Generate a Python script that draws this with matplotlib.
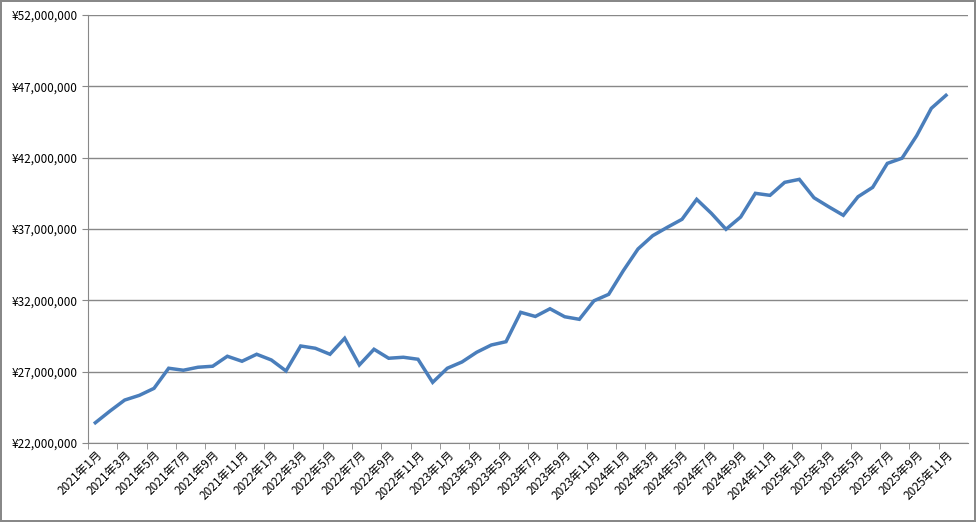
import matplotlib
matplotlib.use("Agg")
import matplotlib.pyplot as plt
from matplotlib.ticker import FuncFormatter

plt.rcParams['font.family'] = ['Noto Sans CJK JP', 'DejaVu Sans']

months = [f"{y}年{m}月" for y in range(2021, 2026) for m in range(1, 13)][:59]
values_m = [23.42, 24.24, 25.01, 25.34, 25.83, 27.24, 27.10, 27.31, 27.38, 28.08,
            27.73, 28.22, 27.82, 27.05, 28.80, 28.64, 28.22, 29.34, 27.47, 28.57,
            27.94, 28.01, 27.87, 26.25, 27.24, 27.68, 28.36, 28.87, 29.10, 31.16,
            30.87, 31.41, 30.85, 30.67, 31.97, 32.42, 34.08, 35.60, 36.53, 37.12,
            37.68, 39.08, 38.10, 36.98, 37.84, 39.50, 39.36, 40.27, 40.48, 39.19,
            38.56, 37.96, 39.26, 39.92, 41.60, 41.96, 43.54, 45.46, 46.37]
values = [v * 1e6 for v in values_m]

fig = plt.figure(figsize=(9.76, 5.22), dpi=100)
fig.patch.set_edgecolor('#888888'); fig.patch.set_linewidth(1.5)
ax = fig.add_axes([88/976, 1-443/522, 880/976, 428/522])
x = list(range(len(values)))
ax.plot(x, values, color='#4a7ebb', lw=2.5, solid_joinstyle='miter')
ax.set_xlim(-0.5, 59.5)
ax.set_ylim(22e6, 52e6)
ax.set_yticks([22e6 + 5e6 * k for k in range(7)])
ax.yaxis.set_major_formatter(FuncFormatter(lambda v, p: f"¥{v:,.0f}"))
ax.grid(axis='y', color='#888888', lw=1)
ax.set_axisbelow(True)
ax.set_xticks(x[::2])
ax.set_xticklabels(months[::2], rotation=45, ha='right', rotation_mode='anchor', fontsize=8.5)
ax.set_xticks([-0.5 + 2*k for k in range(30)], minor=True)
ax.tick_params(axis='x', which='major', length=0, pad=4)
ax.tick_params(axis='x', which='minor', length=4, color='#888888')
ax.tick_params(axis='y', labelsize=8.5, length=4, color='#888888')
for s in ['top', 'right']:
    ax.spines[s].set_visible(False)
for s in ['left', 'bottom']:
    ax.spines[s].set_color('#888888')
fig.savefig('out.png', dpi=100, edgecolor=fig.get_edgecolor())
